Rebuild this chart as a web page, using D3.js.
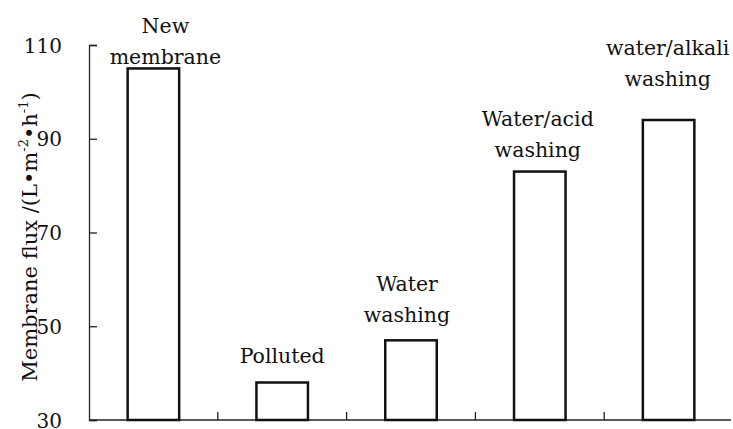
<!DOCTYPE html>
<html>
<head>
<meta charset="utf-8">
<script src="https://cdn.jsdelivr.net/npm/d3@7"></script>
<style>
  body { margin: 0; background: #fff; }
  svg text { font-family: "DejaVu Serif", serif; fill: #111; }
</style>
</head>
<body>
<svg id="chart"></svg>
<script>
// data
var categories = ["New membrane", "Polluted", "Water washing", "Water/acid washing", "water/alkali washing"];
var flux = [105, 38, 47, 83, 94];
var labelLines = [["New", "membrane"], ["Polluted"], ["Water", "washing"], ["Water/acid", "washing"], ["water/alkali", "washing"]];
var yTicks = [30, 50, 70, 90, 110];

// layout
var width = 733, height = 429;
var margin = {top: 45, right: 0, bottom: 9, left: 89};
var labelGap = [4, 20, 18, 15, 34];   // px between last label line and bar top
var labelShift = [12, 0, -4, -2, -1];  // px horizontal nudge
var lineH = 31;
var serif = '"DejaVu Serif", serif';
var fs = 20.5;

var svg = d3.select("#chart").attr("width", width).attr("height", height);
var g = svg.append("g").attr("transform", "translate(" + margin.left + "," + margin.top + ")");

var w = width - margin.left - margin.right;
var h = height - margin.top - margin.bottom;

var x = d3.scaleBand().domain(categories).range([0, w]).paddingInner(0).paddingOuter(0);
var y = d3.scaleLinear().domain([30, 110]).range([h, 0]);
var barW = x.bandwidth() * 0.4;

// y axis (ticks pointing inward)
var yAxis = g.append("g").call(d3.axisLeft(y).tickValues(yTicks).tickSize(-8).tickPadding(26).tickFormat(d3.format("d")));
yAxis.attr("font-family", null);
yAxis.select(".domain").attr("stroke", "#222").attr("stroke-width", 1.3);
yAxis.selectAll(".tick line").attr("stroke", "#222").attr("stroke-width", 1.3);
yAxis.selectAll(".tick text").attr("font-size", 20).attr("text-anchor", "end").attr("x", -27).attr("dy", "0.35em")
  .style("font-family", serif).attr("fill", "#111");

// x axis baseline with category separators
g.append("line").attr("x1", 0).attr("x2", w - 2).attr("y1", h).attr("y2", h)
  .attr("stroke", "#222").attr("stroke-width", 1.3);
g.selectAll(".sep").data(categories.slice(1)).enter().append("line")
  .attr("class", "sep")
  .attr("x1", function(d) { return x(d); }).attr("x2", function(d) { return x(d); })
  .attr("y1", h).attr("y2", h - 8)
  .attr("stroke", "#222").attr("stroke-width", 1.3);

// bars
g.selectAll(".bar").data(flux).enter().append("rect")
  .attr("class", "bar")
  .attr("x", function(d, i) { return x(categories[i]) + (x.bandwidth() - barW) / 2; })
  .attr("y", function(d) { return y(d); })
  .attr("width", barW)
  .attr("height", function(d) { return h - y(d); })
  .attr("fill", "#fff").attr("stroke", "#111").attr("stroke-width", 2.5);

// bar labels
labelLines.forEach(function(lines, i) {
  var cx = x(categories[i]) + x.bandwidth() / 2 + labelShift[i];
  var lastY = y(flux[i]) - labelGap[i];
  var t = g.append("text").attr("text-anchor", "middle").attr("font-size", fs).style("font-family", serif);
  lines.forEach(function(s, j) {
    t.append("tspan").attr("x", cx).attr("y", lastY - (lines.length - 1 - j) * lineH).text(s);
  });
});

// y axis title
var title = svg.append("text")
  .attr("transform", "translate(37," + 237 + ") rotate(-90)")
  .attr("text-anchor", "middle").attr("font-size", 21).style("font-family", serif);
title.append("tspan").text("Membrane flux /(L\u2022m");
title.append("tspan").attr("dy", -9).attr("font-size", 13).text("-2");
title.append("tspan").attr("dy", 9).text("\u2022h");
title.append("tspan").attr("dy", -9).attr("font-size", 13).text("-1");
title.append("tspan").attr("dy", 9).text(")");
</script>
</body>
</html>
